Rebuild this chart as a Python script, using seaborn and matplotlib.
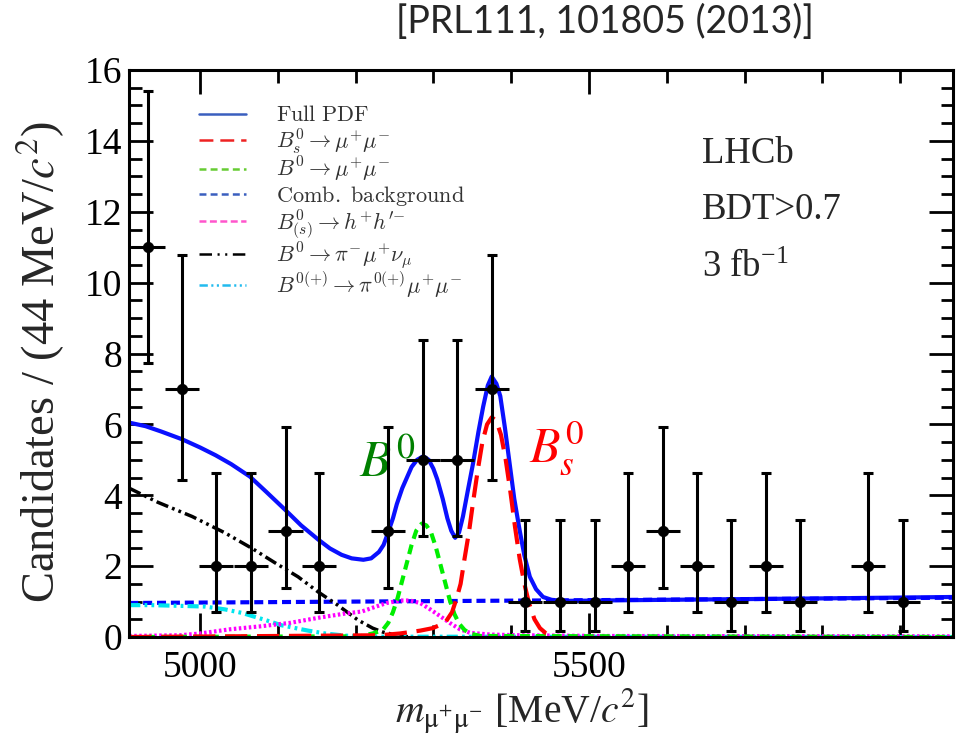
import matplotlib
matplotlib.use("Agg")
import matplotlib.pyplot as plt
from matplotlib.lines import Line2D
from matplotlib.ticker import MultipleLocator
import numpy as np
import pandas as pd
import seaborn as sns

# binned data (44 MeV bins, empty bins not drawn)
mass = [4933, 4977, 5021, 5066, 5110, 5153, 5242, 5287, 5330, 5375, 5418,
        5463, 5508, 5550, 5595, 5639, 5683, 5728, 5771, 5859, 5904]
counts = [11, 7, 2, 2, 3, 2, 3, 5, 5, 7, 1, 1, 1, 2, 3, 2, 1, 2, 1, 2, 1]
# asymmetric poisson errors per count
err_lo = {1: 0.83, 2: 1.29, 3: 1.63, 5: 2.16, 7: 2.58, 11: 3.26}
err_hi = {1: 2.30, 2: 2.64, 3: 2.92, 5: 3.38, 7: 3.77, 11: 4.41}
half_bin = 22

# fit components
full_x = [4909, 4930, 4950, 4977, 5000, 5020, 5040, 5064, 5085, 5109, 5130,
          5152, 5167, 5182, 5195, 5210, 5220, 5230, 5236, 5241, 5248, 5253,
          5260, 5266, 5272, 5279, 5287, 5294, 5300, 5305, 5312, 5318, 5323,
          5328, 5333, 5338, 5344, 5351, 5358, 5364, 5370, 5375, 5381, 5386,
          5392, 5398, 5404, 5411, 5417, 5424, 5432, 5441, 5452, 5467, 5600,
          5800, 5968]
full_y = [6.05, 5.95, 5.8, 5.58, 5.35, 5.13, 4.88, 4.53, 4.1, 3.6, 3.15,
          2.75, 2.5, 2.32, 2.22, 2.18, 2.22, 2.4, 2.6, 2.9, 3.35, 3.75,
          4.2, 4.5, 4.8, 5.0, 5.1, 5.0, 4.75, 4.45, 3.9, 3.35, 3.0,
          2.8, 2.95, 3.4, 4.1, 4.9, 5.8, 6.5, 7.1, 7.35, 7.15, 6.8,
          5.9, 4.9, 3.9, 3.0, 2.3, 1.7, 1.35, 1.13, 1.05, 1.02, 1.05,
          1.09, 1.13]

bs_x = [4909, 5231, 5257, 5283, 5299, 5315, 5324, 5330, 5335, 5340, 5346,
        5351, 5357, 5363, 5369, 5375, 5381, 5387, 5393, 5399, 5405, 5411,
        5417, 5423, 5430, 5437, 5445, 5455]
bs_y = [0.0, 0.05, 0.1, 0.18, 0.25, 0.4, 0.7, 1.1, 1.5, 2.2, 3.0,
        3.8, 4.7, 5.5, 6.0, 6.2, 6.1, 5.7, 5.0, 4.1, 3.1, 2.2,
        1.5, 0.95, 0.5, 0.25, 0.1, 0.02]

bd_x = [4909, 5206, 5222, 5235, 5242, 5248, 5254, 5260, 5266, 5272, 5278,
        5285, 5291, 5297, 5303, 5309, 5315, 5321, 5327, 5333, 5340, 5347,
        5360, 5968]
bd_y = [0.0, 0.02, 0.1, 0.2, 0.4, 0.7, 1.1, 1.6, 2.1, 2.6, 3.0,
        3.2, 3.15, 2.95, 2.55, 2.05, 1.55, 1.05, 0.65, 0.38, 0.2, 0.1,
        0.03, 0.0]

comb_x = [4909, 5200, 5500, 5968]
comb_y = [0.96, 1.0, 1.04, 1.11]

hh_x = [4909, 4974, 5000, 5039, 5077, 5116, 5154, 5186, 5208, 5225, 5240,
        5257, 5270, 5283, 5296, 5308, 5321, 5334, 5347, 5373, 5411, 5514, 5968]
hh_y = [0.03, 0.05, 0.1, 0.22, 0.3, 0.4, 0.55, 0.66, 0.72, 0.85, 0.96,
        1.03, 1.03, 0.96, 0.78, 0.6, 0.4, 0.22, 0.12, 0.07, 0.05, 0.03, 0.02]

pimunu_x = [4909, 4946, 4990, 5032, 5067, 5096, 5126, 5152, 5177, 5203,
            5222, 5235, 5253, 5270]
pimunu_y = [4.2, 3.8, 3.4, 2.94, 2.5, 2.1, 1.7, 1.27, 0.9, 0.48,
            0.25, 0.14, 0.05, 0.0]

pimumu_x = [4909, 4936, 4974, 5006, 5032, 5054, 5084, 5105, 5139, 5161,
            5186, 5218, 5968]
pimumu_y = [0.9, 0.9, 0.88, 0.86, 0.78, 0.68, 0.48, 0.33, 0.18, 0.1,
            0.04, 0.01, 0.0]

labels = [r"$\mathrm{Full\ PDF}$",
          r"$B_s^0 \rightarrow \mu^{+}\mu^{-}$",
          r"$B^0 \rightarrow \mu^{+}\mu^{-}$",
          r"$\mathrm{Comb.\ background}$",
          r"$B_{(s)}^0 \rightarrow h^{+}h^{\prime{-}}$",
          r"$B^0 \rightarrow \pi^{-}\mu^{+}\nu_\mu$",
          r"$B^{0(+)} \rightarrow \pi^{0(+)}\mu^{+}\mu^{-}$"]

serif = ["Liberation Serif", "DejaVu Serif"]
sns.set_style("ticks")
plt.rcParams["font.family"] = serif
plt.rcParams["mathtext.fontset"] = "stix"
plt.rcParams["lines.scale_dashes"] = False

fig = plt.figure(figsize=(9.57, 7.35), dpi=100)
ax = fig.add_axes([0.1348, 0.1333, 0.861, 0.7714])

curves = [
    (full_x, full_y, "#0a10ff", None, 3.0),
    (comb_x, comb_y, "#0000ff", (6.5, 3.5), 3.0),
    (pimunu_x, pimunu_y, "black", (9, 3, 2, 3, 2, 3), 2.5),
    (pimumu_x, pimumu_y, "#00e5ee", (8, 3, 2, 3, 2, 3), 3.0),
    (hh_x, hh_y, "#ff00ff", (1.8, 1.8), 3.0),
    (bd_x, bd_y, "#00ee00", (7, 4.5), 3.0),
    (bs_x, bs_y, "#ff0000", (16, 7), 3.0),
]
for xs, ys, col, dash, lw in curves:
    df = pd.DataFrame({"m": xs, "n": ys})
    sns.lineplot(data=df, x="m", y="n", color=col, lw=lw, ax=ax,
                 estimator=None, sort=False)
    ax.lines[-1].set_solid_joinstyle("round")
    if dash is not None:
        ax.lines[-1].set_dashes(dash)

yl = [err_lo[c] for c in counts]
yh = [err_hi[c] for c in counts]
ax.errorbar(mass, counts, yerr=[yl, yh], fmt="none", ecolor="black",
            elinewidth=2.2, capsize=3.6, capthick=2.2, zorder=5)
ax.errorbar(mass, counts, xerr=half_bin, fmt="none", ecolor="black",
            elinewidth=2.2, capsize=0, zorder=5)
sns.scatterplot(x=mass, y=counts, color="black", s=55, edgecolor="black",
                zorder=6, ax=ax)

ax.set_xlim(4908.7, 5968)
ax.set_ylim(0, 16)
ax.xaxis.set_major_locator(MultipleLocator(500))
ax.xaxis.set_minor_locator(MultipleLocator(100))
ax.yaxis.set_major_locator(MultipleLocator(2))
ax.yaxis.set_minor_locator(MultipleLocator(0.5))
ax.tick_params(which="both", direction="in", top=True, right=True,
               width=2, labelsize=27, colors="black")
ax.tick_params(which="major", length=17)
ax.tick_params(which="minor", length=9)
ax.tick_params(axis="x", pad=10)
ax.tick_params(axis="y", pad=5)
for sp in ax.spines.values():
    sp.set_linewidth(2.2)
    sp.set_color("black")

ax.set_xlabel(r"$m_{\mathrm{\mu^{+}\mu^{-}}}$ [MeV/$c^2$]", fontsize=28.5)
ax.xaxis.set_label_coords(0.477, -0.088)
ax.set_ylabel(r"Candidates / (44 MeV/$c^2$)", fontsize=33.5)
ax.yaxis.set_label_coords(-0.075, 0.485)

handles = [
    Line2D([], [], color="#3a5fbf", lw=1.8),
    Line2D([], [], color="#ee2222", lw=1.8, dashes=(10, 5)),
    Line2D([], [], color="#66cc33", lw=1.8, dashes=(5, 3)),
    Line2D([], [], color="#3a5fbf", lw=1.8, dashes=(5, 3)),
    Line2D([], [], color="#ff55cc", lw=1.8, dashes=(5, 2.5)),
    Line2D([], [], color="black", lw=1.8, dashes=(9, 4, 1.5, 4, 1.5, 4)),
    Line2D([], [], color="#22bbee", lw=1.8, dashes=(6, 2.5, 1.5, 2.5, 1.5, 2.5)),
]
leg = ax.legend(handles, labels, loc="upper left", bbox_to_anchor=(0.085, 0.937),
                frameon=False, fontsize=16, handlelength=2.1,
                handletextpad=1.35, labelspacing=-0.02, borderpad=0,
                borderaxespad=0)
for t in leg.get_texts():
    t.set_math_fontfamily("cm")
    t.set_color("#333333")

ax.text(5645, 13.39, "LHCb", fontsize=26.5)
ax.text(5645, 11.8, "BDT>0.7", fontsize=26.5)
ax.text(5645, 10.17, r"3 fb$^{\mathregular{-1}}$", fontsize=26.5)

ax.text(5205, 4.52, r"$B^0$", fontsize=37, color="#008000")
ax.text(5423, 4.94, r"$B_s^0$", fontsize=36, color="#ff0000")

fig.text(0.632, 0.970, "[PRL111, 101805 (2013)]", fontsize=27,
         family="Lato", ha="center", va="center")

for lab in ax.get_xticklabels() + ax.get_yticklabels():
    lab.set_family(serif)

fig.savefig("out.png", dpi=100)
